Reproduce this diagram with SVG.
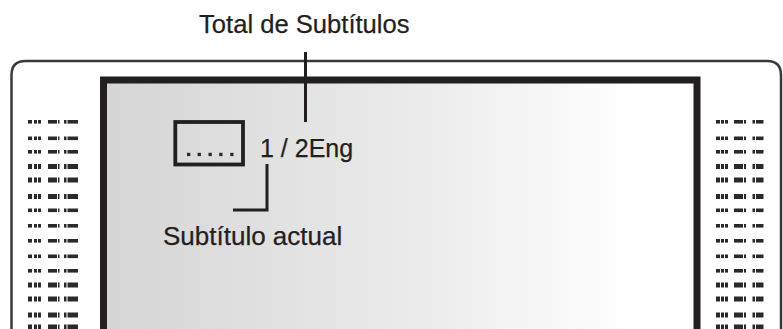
<svg xmlns="http://www.w3.org/2000/svg" width="783" height="329" viewBox="0 0 783 329">
<defs>
<linearGradient id="scr" x1="107" y1="0" x2="693" y2="0" gradientUnits="userSpaceOnUse">
<stop offset="0" stop-color="#d5d5d5"/>
<stop offset="0.55" stop-color="#ececec"/>
<stop offset="0.9" stop-color="#ffffff"/>
<stop offset="1" stop-color="#ffffff"/>
</linearGradient>
<g id="rowL">
<rect x="28" y="0" width="4" height="1"/>
<rect x="34" y="0" width="3" height="1"/>
<rect x="38" y="0" width="3" height="1"/>
<rect x="48" y="0" width="9" height="1"/>
<rect x="58" y="0" width="1.5" height="1"/>
<rect x="64" y="0" width="2.5" height="1"/>
<rect x="67.5" y="0" width="10.5" height="1"/>
</g>
<g id="rowR">
<rect x="716" y="0" width="4" height="1"/>
<rect x="721" y="0" width="3" height="1"/>
<rect x="725" y="0" width="3" height="1"/>
<rect x="734" y="0" width="9" height="1"/>
<rect x="744" y="0" width="2" height="1"/>
<rect x="752.5" y="0" width="2.5" height="1"/>
<rect x="756" y="0" width="7.5" height="1"/>
</g>
</defs>
<style>
.txt{font-family:"Liberation Sans",Arial,sans-serif;fill:#231f20;stroke:#231f20;stroke-width:0.25}
.lead{fill:none;stroke:#231f20;stroke-width:3}
.dots{fill:#2a2a2a}
</style>
<rect width="783" height="329" fill="#ffffff"/>
<g id="frame">
<path d="M11.5 340 V75 Q11.5 61 25.5 61 H767 Q781 61 781 75 V340" fill="none" stroke="#3a3a3a" stroke-width="2.5"/>
</g>
<g id="side-markings" class="dots">
<use href="#rowL" transform="translate(0,120) scale(1,3.6)"/>
<use href="#rowL" transform="translate(0,136.5) scale(1,3.6)"/>
<use href="#rowL" transform="translate(0,150) scale(1,3.6)"/>
<use href="#rowL" transform="translate(0,164) scale(1,5)"/>
<use href="#rowL" transform="translate(0,177.5) scale(1,5)"/>
<use href="#rowL" transform="translate(0,194) scale(1,5)"/>
<use href="#rowL" transform="translate(0,208.5) scale(1,3.6)"/>
<use href="#rowL" transform="translate(0,224) scale(1,3.6)"/>
<use href="#rowL" transform="translate(0,239) scale(1,3.6)"/>
<use href="#rowL" transform="translate(0,254.5) scale(1,3.6)"/>
<use href="#rowL" transform="translate(0,269) scale(1,3.6)"/>
<use href="#rowL" transform="translate(0,282.5) scale(1,5)"/>
<use href="#rowL" transform="translate(0,296.5) scale(1,5)"/>
<use href="#rowL" transform="translate(0,312.5) scale(1,5)"/>
<use href="#rowL" transform="translate(0,324.5) scale(1,5)"/>
<use href="#rowR" transform="translate(0,120) scale(1,3.6)"/>
<use href="#rowR" transform="translate(0,136.5) scale(1,3.6)"/>
<use href="#rowR" transform="translate(0,150) scale(1,3.6)"/>
<use href="#rowR" transform="translate(0,164) scale(1,5)"/>
<use href="#rowR" transform="translate(0,177.5) scale(1,5)"/>
<use href="#rowR" transform="translate(0,194) scale(1,5)"/>
<use href="#rowR" transform="translate(0,208.5) scale(1,3.6)"/>
<use href="#rowR" transform="translate(0,224) scale(1,3.6)"/>
<use href="#rowR" transform="translate(0,239) scale(1,3.6)"/>
<use href="#rowR" transform="translate(0,254.5) scale(1,3.6)"/>
<use href="#rowR" transform="translate(0,269) scale(1,3.6)"/>
<use href="#rowR" transform="translate(0,282.5) scale(1,5)"/>
<use href="#rowR" transform="translate(0,296.5) scale(1,5)"/>
<use href="#rowR" transform="translate(0,312.5) scale(1,5)"/>
<use href="#rowR" transform="translate(0,324.5) scale(1,5)"/>
</g>
<g id="screen">
<path d="M103.5 340 V80 H697 V340" fill="url(#scr)" stroke="#231f20" stroke-width="7"/>
</g>
<g id="subtitle-box">
<rect x="175.3" y="122" width="67.7" height="42.5" fill="none" stroke="#231f20" stroke-width="3.8"/>
<g class="dots">
<rect x="187" y="152.8" width="3.3" height="3.3"/>
<rect x="197.6" y="152.8" width="3.3" height="3.3"/>
<rect x="208.5" y="152.8" width="3.3" height="3.3"/>
<rect x="219.2" y="152.8" width="3.3" height="3.3"/>
<rect x="230.2" y="152.8" width="3.3" height="3.3"/>
</g>
</g>
<g id="subtitle-counter">
<text class="txt" x="260" y="157" font-size="25">1 / 2Eng</text>
</g>
<g id="label-total">
<text class="txt" x="199" y="33" font-size="25.6">Total de Subtítulos</text>
</g>
<g id="label-current">
<text class="txt" x="163" y="245" font-size="26">Subtítulo actual</text>
</g>
<g id="connectors">
<path class="lead" d="M305.5 52 V122"/>
<path class="lead" d="M267 164 V210 H233"/>
</g>
</svg>
